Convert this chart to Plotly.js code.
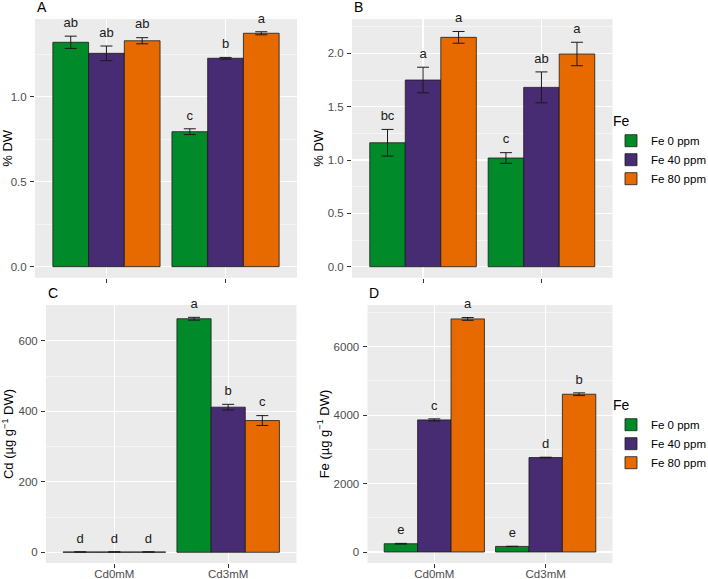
<!DOCTYPE html>
<html>
<head>
<meta charset="utf-8">
<script src="https://cdn.plot.ly/plotly-3.0.1.min.js"></script>
<style>html,body{margin:0;padding:0;background:#fff;}#chart{width:708px;height:579px;}</style>
</head>
<body>
<div id="chart"></div>
<script>
// ---- data ----
const cdLevels = ["Cd0mM", "Cd3mM"];
const feLevels = ["Fe 0 ppm", "Fe 40 ppm", "Fe 80 ppm"];

// Panel A (% DW) – one row per Fe level, values for Cd0mM, Cd3mM
const aMean = [[1.32, 0.794], [1.255, 1.226], [1.329, 1.373]];
const aSe   = [[0.036, 0.017], [0.043, 0.005], [0.018, 0.009]];
const aLab  = [["ab", "c"], ["ab", "b"], ["ab", "a"]];

// Panel B (% DW)
const bMean = [[1.162, 1.019], [1.75, 1.681], [2.15, 1.994]];
const bSe   = [[0.125, 0.05], [0.12, 0.145], [0.055, 0.11]];
const bLab  = [["bc", "c"], ["a", "ab"], ["a", "a"]];

// Panel C (Cd, µg g-1 DW)
const cMean = [[1, 663], [1, 412], [1, 374]];
const cSe   = [[0, 4], [0, 8], [0, 14]];
const cLab  = [["d", "a"], ["d", "b"], ["d", "c"]];

// Panel D (Fe, µg g-1 DW)
const dMean = [[242, 163], [3860, 2760], [6810, 4610]];
const dSe   = [[10, 5], [30, 10], [40, 40]];
const dLab  = [["e", "e"], ["c", "d"], ["a", "b"]];

// ---- styles ----
const feColors = ["#008A2A", "#472B73", "#E66A00"];
const FONT = "Liberation Sans, Arial, sans-serif";

const panels = [
  {mean: aMean, se: aSe, lab: aLab, xa: "x",  ya: "y",  legend: "legend"},
  {mean: bMean, se: bSe, lab: bLab, xa: "x2", ya: "y2", legend: "legend"},
  {mean: cMean, se: cSe, lab: cLab, xa: "x3", ya: "y3", legend: "legend2"},
  {mean: dMean, se: dSe, lab: dLab, xa: "x4", ya: "y4", legend: "legend2"}
];

const traces = [];
panels.forEach((p, pi) => {
  feLevels.forEach((fe, fi) => {
    traces.push({
      type: "bar", x: cdLevels, y: p.mean[fi], name: fe,
      xaxis: p.xa, yaxis: p.ya, offsetgroup: fe, legend: p.legend,
      showlegend: (pi === 0 || pi === 2),
      marker: {color: feColors[fi], line: {color: "#1a1a1a", width: 0.8}},
      error_y: {type: "data", array: p.se[fi], visible: true, color: "#1a1a1a", thickness: 1, width: 6},
      hoverinfo: "skip"
    });
  });
  feLevels.forEach((fe, fi) => {
    traces.push({
      type: "scatter", mode: "markers+text", x: cdLevels,
      y: p.mean[fi].map((m, i) => m + p.se[fi][i]),
      text: p.lab[fi], textposition: "top center",
      marker: {size: 8, opacity: 0, color: feColors[fi]},
      textfont: {family: FONT, size: 13, color: "#1a1a1a"},
      xaxis: p.xa, yaxis: p.ya, offsetgroup: fe, showlegend: false,
      hoverinfo: "skip", cliponaxis: false
    });
  });
});

const W = 708, H = 579;
const px = (a, b) => [a / W, b / W];
const py = (top, bottom) => [1 - bottom / H, 1 - top / H];

const tickFont = {family: FONT, size: 11.5, color: "#4D4D4D"};
function xAxis(dom, anchor, labels) {
  return {
    domain: dom, anchor: anchor, type: "category", range: [-0.6, 1.6],
    showgrid: true, gridcolor: "#FFFFFF", gridwidth: 1.1,
    ticks: "outside", ticklen: 4, tickwidth: 1, tickcolor: "#333333",
    showticklabels: labels, tickfont: tickFont, ticklabelstandoff: -4,
    zeroline: false, showline: false, fixedrange: true
  };
}
function yAxis(dom, anchor, range, dtick, fmt, title, auto, standoff) {
  return {
    domain: dom, anchor: anchor, range: range, dtick: dtick, tick0: 0, tickformat: fmt,
    showgrid: true, gridcolor: "#FFFFFF", gridwidth: 1.1,
    minor: {dtick: dtick / 2, tick0: 0, showgrid: true, gridcolor: "#FFFFFF", gridwidth: 0.5, ticks: ""},
    ticks: "outside", ticklen: 4, tickwidth: 1, tickcolor: "#333333",
    tickfont: tickFont, ticklabelstandoff: 1, zeroline: false, showline: false, automargin: auto,
    title: {text: title, font: {family: FONT, size: 13, color: "#000000"}, standoff: standoff},
    fixedrange: true
  };
}

const domTopY = py(19, 277.7);
const domBotY = py(305, 563);

const legendBase = {
  x: 611 / W, xanchor: "left", yanchor: "top",
  title: {text: "Fe", font: {family: FONT, size: 14, color: "#000"}},
  font: {family: FONT, size: 11.5, color: "#000"}, bgcolor: "rgba(0,0,0,0)",
  traceorder: "normal", borderwidth: 0
};

const layout = {
  width: W, height: H,
  margin: {l: 0, r: 0, t: 0, b: 0, autoexpand: false},
  paper_bgcolor: "#FFFFFF", plot_bgcolor: "#EBEBEB",
  font: {family: FONT},
  barmode: "group", bargap: 0.1, bargroupgap: 0,
  scattermode: "group", scattergap: 0.1,
  xaxis:  xAxis(px(35, 297),    "y",  false),
  yaxis:  yAxis(domTopY, "x",  [-0.065, 1.457], 0.5, ".1f", "% DW", false, 4),
  xaxis2: xAxis(px(352, 612.5), "y2", false),
  yaxis2: yAxis(domTopY, "x2", [-0.103, 2.322], 0.5, ".1f", "% DW", true, 1),
  xaxis3: xAxis(px(46, 296.5),  "y3", true),
  yaxis3: yAxis(domBotY, "x3", [-30.4, 702], 200, "d", "Cd (µg g<sup>−1</sup> DW)", false, 4),
  xaxis4: xAxis(px(367.5, 612.5), "y4", true),
  yaxis4: yAxis(domBotY, "x4", [-321, 7217], 2000, "d", "Fe (µg g<sup>−1</sup> DW)", true, 1),
  legend:  Object.assign({}, legendBase, {y: 1 - 108 / H}),
  legend2: Object.assign({}, legendBase, {y: 1 - 392 / H}),
  annotations: [["A", "x", "y"], ["B", "x2", "y2"], ["C", "x3", "y3"], ["D", "x4", "y4"]].map(a => ({
    text: a[0], xref: a[1] + " domain", yref: a[2] + " domain", x: 0, y: 1,
    xanchor: "left", yanchor: "bottom", yshift: 2, showarrow: false,
    font: {family: FONT, size: 14, color: "#000"}
  }))
};

Plotly.newPlot("chart", traces, layout, {staticPlot: true, displayModeBar: false});
</script>
</body>
</html>
